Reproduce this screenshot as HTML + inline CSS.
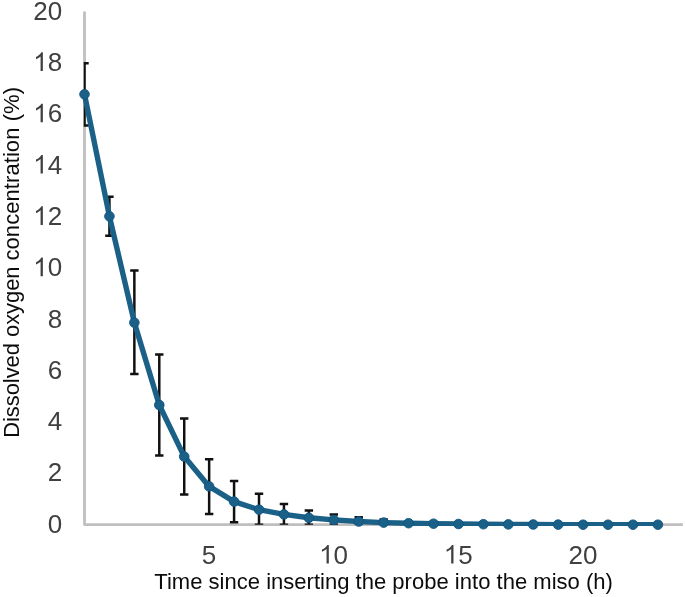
<!DOCTYPE html>
<html><head><meta charset="utf-8"><title>Dissolved oxygen</title>
<style>
html,body{margin:0;padding:0;background:#fff;}
body{width:685px;height:597px;overflow:hidden;font-family:"Liberation Sans",sans-serif;}
svg{display:block;will-change:transform;}
text{font-family:"Liberation Sans",sans-serif;}
</style></head><body>
<svg width="685" height="597" viewBox="0 0 685 597">
<rect width="685" height="597" fill="#fff"/>
<defs><clipPath id="cl"><rect x="83.7" y="0" width="620" height="524.7"/></clipPath><clipPath id="cl2"><rect x="0" y="0" width="685" height="526.05"/></clipPath></defs>
<path d="M84.5,11.4V524.6H682.9" fill="none" stroke="#bfbfbf" stroke-width="2.8" stroke-linejoin="round"/>
<g clip-path="url(#cl)"><path d="M84.50,63.30V125.50M80.30,63.30H88.70M80.30,125.50H88.70M109.43,196.80V235.80M105.23,196.80H113.63M105.23,235.80H113.63M134.36,270.50V374.00M130.16,270.50H138.56M130.16,374.00H138.56M159.29,354.50V455.60M155.09,354.50H163.49M155.09,455.60H163.49M184.22,418.40V494.40M180.02,418.40H188.42M180.02,494.40H188.42M209.15,459.20V513.90M204.95,459.20H213.35M204.95,513.90H213.35M234.08,480.90V522.30M229.88,480.90H238.28M229.88,522.30H238.28M259.01,493.80V524.80M254.81,493.80H263.21M254.81,524.80H263.21M283.94,503.90V524.80M279.74,503.90H288.14M279.74,524.80H288.14M308.87,510.50V524.80M304.67,510.50H313.07M304.67,524.80H313.07M333.80,514.50V524.80M329.60,514.50H338.00M329.60,524.80H338.00M358.73,517.20V524.80M354.53,517.20H362.93M354.53,524.80H362.93M383.66,519.60V524.80M379.46,519.60H387.86M379.46,524.80H387.86" fill="none" stroke="#111" stroke-width="2.5"/></g>
<path clip-path="url(#cl2)" d="M84.50,94.30 L109.43,216.30 L134.36,322.60 L159.29,405.00 L184.22,456.60 L209.15,486.40 L234.08,501.60 L259.01,509.70 L283.94,514.40 L308.87,517.80 L333.80,519.90 L358.73,521.50 L383.66,522.60 L408.59,523.20 L433.52,523.70 L458.45,524.00 L483.38,524.20 L508.31,524.40 L533.24,524.50 L558.17,524.60 L583.10,524.70 L608.03,524.70 L632.96,524.70 L657.89,524.70" fill="none" stroke="#1a6087" stroke-width="5.4" stroke-linecap="round" stroke-linejoin="round"/>
<g fill="#1a6087" stroke="#0f5582" stroke-width="0.9"><circle cx="84.50" cy="94.30" r="4.8"/><circle cx="109.43" cy="216.30" r="4.8"/><circle cx="134.36" cy="322.60" r="4.8"/><circle cx="159.29" cy="405.00" r="4.8"/><circle cx="184.22" cy="456.60" r="4.8"/><circle cx="209.15" cy="486.40" r="4.8"/><circle cx="234.08" cy="501.60" r="4.8"/><circle cx="259.01" cy="509.70" r="4.8"/><circle cx="283.94" cy="514.40" r="4.8"/><circle cx="308.87" cy="517.80" r="4.8"/><circle cx="333.80" cy="519.90" r="4.8"/><circle cx="358.73" cy="521.50" r="4.8"/><circle cx="383.66" cy="522.60" r="4.8"/><circle cx="408.59" cy="523.20" r="4.8"/><circle cx="433.52" cy="523.70" r="4.8"/><circle cx="458.45" cy="524.00" r="4.8"/><circle cx="483.38" cy="524.20" r="4.8"/><circle cx="508.31" cy="524.40" r="4.8"/><circle cx="533.24" cy="524.50" r="4.8"/><circle cx="558.17" cy="524.60" r="4.8"/><circle cx="583.10" cy="524.70" r="4.8"/><circle cx="608.03" cy="524.70" r="4.8"/><circle cx="632.96" cy="524.70" r="4.8"/><circle cx="657.89" cy="524.70" r="4.8"/></g>
<g font-size="26" fill="#404040"><text x="47.64" y="532.70">0</text><text x="47.64" y="481.40">2</text><text x="47.64" y="430.10">4</text><text x="47.64" y="378.80">6</text><text x="47.64" y="327.50">8</text><path transform="translate(33.18,276.20) scale(0.012695,-0.012695)" d="M763 0H583V1147Q518 1085 412.5 1023T223 930V1104Q373 1174 485 1275T644 1470H763Z"/><text x="47.64" y="276.20">0</text><path transform="translate(33.18,224.90) scale(0.012695,-0.012695)" d="M763 0H583V1147Q518 1085 412.5 1023T223 930V1104Q373 1174 485 1275T644 1470H763Z"/><text x="47.64" y="224.90">2</text><path transform="translate(33.18,173.60) scale(0.012695,-0.012695)" d="M763 0H583V1147Q518 1085 412.5 1023T223 930V1104Q373 1174 485 1275T644 1470H763Z"/><text x="47.64" y="173.60">4</text><path transform="translate(33.18,122.30) scale(0.012695,-0.012695)" d="M763 0H583V1147Q518 1085 412.5 1023T223 930V1104Q373 1174 485 1275T644 1470H763Z"/><text x="47.64" y="122.30">6</text><path transform="translate(33.18,71.00) scale(0.012695,-0.012695)" d="M763 0H583V1147Q518 1085 412.5 1023T223 930V1104Q373 1174 485 1275T644 1470H763Z"/><text x="47.64" y="71.00">8</text><text x="33.18" y="19.70">2</text><text x="47.64" y="19.70">0</text><text x="201.72" y="563.60">5</text><path transform="translate(319.14,563.60) scale(0.012695,-0.012695)" d="M763 0H583V1147Q518 1085 412.5 1023T223 930V1104Q373 1174 485 1275T644 1470H763Z"/><text x="333.60" y="563.60">0</text><path transform="translate(443.79,563.60) scale(0.012695,-0.012695)" d="M763 0H583V1147Q518 1085 412.5 1023T223 930V1104Q373 1174 485 1275T644 1470H763Z"/><text x="458.25" y="563.60">5</text><text x="568.44" y="563.60">2</text><text x="582.90" y="563.60">0</text></g>
<text x="154.3" y="589.3" font-size="22" fill="#0c0c0c" textLength="458.6">Time since inserting the probe into the miso (h)</text>
<g transform="translate(19.4,437.8) rotate(-90)" font-size="22" fill="#0c0c0c"><text x="0" y="0" textLength="171.4">Dissolved oxygen</text><text x="177.3" y="0" textLength="173.5">concentration (%)</text></g>
</svg>
</body></html>
